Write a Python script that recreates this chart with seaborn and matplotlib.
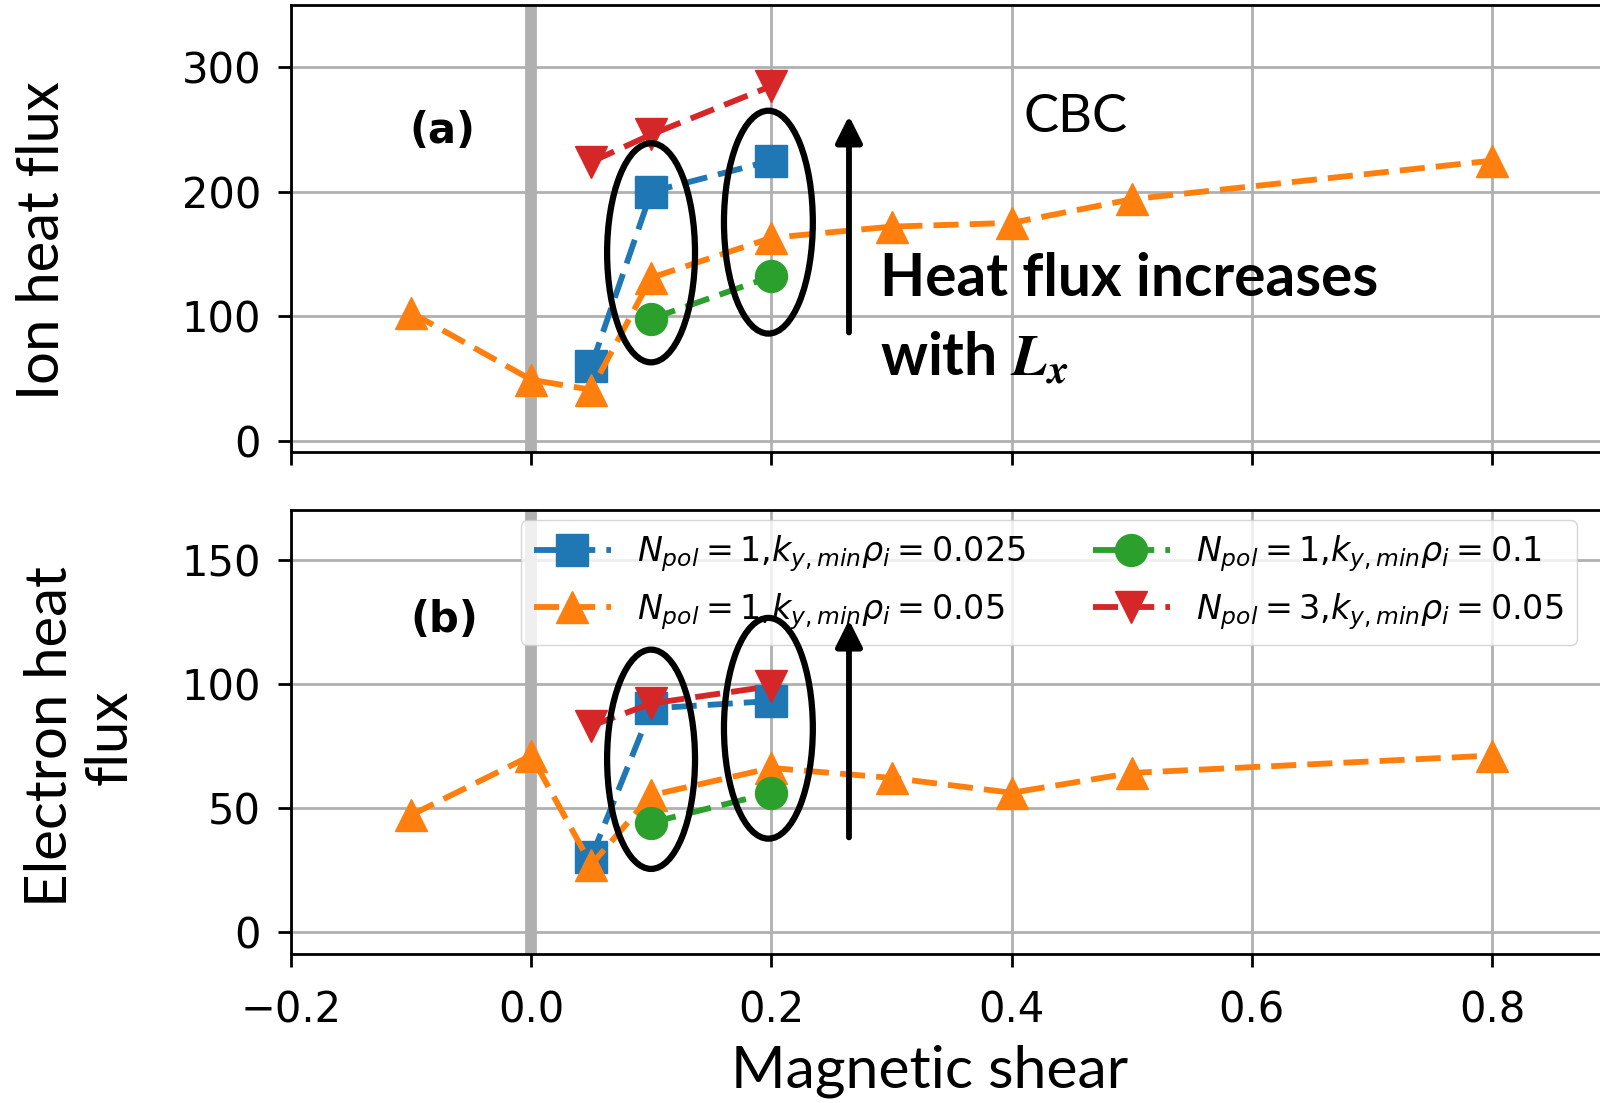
import numpy as np
import pandas as pd
import matplotlib
matplotlib.use("Agg")
import matplotlib.pyplot as plt
import seaborn as sns
from matplotlib.patches import Ellipse
from matplotlib.font_manager import FontProperties

# ---------------- data ----------------
shear_025 = [0.05, 0.1, 0.2]
ion_025 = [60, 200, 225]
elec_025 = [30, 90, 93]

shear_005 = [-0.1, 0.0, 0.05, 0.1, 0.2, 0.3, 0.4, 0.5, 0.8]
ion_005 = [103, 49, 41, 131, 163, 172, 175, 194, 225]
elec_005 = [47, 71, 27, 55, 66, 62, 56, 64, 71]

shear_01 = [0.1, 0.2]
ion_01 = [98, 132]
elec_01 = [44, 56]

shear_np3 = [0.05, 0.1, 0.2]
ion_np3 = [224, 246, 285]
elec_np3 = [83, 92, 99]

labels = [
    r'$N_{pol}=1$,$k_{y,min}\rho_i=0.025$',
    r'$N_{pol}=1$,$k_{y,min}\rho_i=0.05$',
    r'$N_{pol}=1$,$k_{y,min}\rho_i=0.1$',
    r'$N_{pol}=3$,$k_{y,min}\rho_i=0.05$',
]
xticks = [-0.2, 0.0, 0.2, 0.4, 0.6, 0.8]
yticks_ion = [0, 100, 200, 300]
yticks_elec = [0, 50, 100, 150]

series = [
    dict(x=shear_025, ion=ion_025, elec=elec_025, color="#1f77b4", marker="s", label=labels[0]),
    dict(x=shear_005, ion=ion_005, elec=elec_005, color="#ff7f0e", marker="^", label=labels[1]),
    dict(x=shear_01, ion=ion_01, elec=elec_01, color="#2ca02c", marker="o", label=labels[2]),
    dict(x=shear_np3, ion=ion_np3, elec=elec_np3, color="#d62728", marker="v", label=labels[3]),
]

# ---------------- style ----------------
sns.set_theme(style="ticks", rc={
    "axes.edgecolor": "black", "xtick.color": "black", "ytick.color": "black",
    "text.color": "black", "axes.labelcolor": "black",
})
plt.rcParams["font.family"] = ["DejaVu Sans"]
plt.rcParams["mathtext.fontset"] = "dejavusans"

W, H = 1600, 1103
fig = plt.figure(figsize=(W / 100, H / 100), dpi=100)


def rect(l, t, r, b):
    return [l / W, 1 - b / H, (r - l) / W, (b - t) / H]


XMIN, XMAX = -0.2, 0.9
right_px = 291 + (XMAX - XMIN) * 1201
ax1 = fig.add_axes(rect(291, 5, right_px, 452))
ax2 = fig.add_axes(rect(291, 510, right_px, 954))

for ax, key, ylim, yt in [(ax1, "ion", (-9, 350), yticks_ion),
                          (ax2, "elec", (-9, 170), yticks_elec)]:
    ax.set_axisbelow(True)
    ax.grid(True, color="#b0b0b0", lw=2)
    ax.axvline(0, color="#b0b0b0", lw=8.5, zorder=1)
    for s in series:
        df = pd.DataFrame({"x": s["x"], "y": s[key]})
        sns.lineplot(data=df, x="x", y="y", ax=ax, color=s["color"], marker=s["marker"],
                     markersize=23, markeredgecolor=s["color"], markeredgewidth=1,
                     linestyle=(0, (4.3, 1.9)), linewidth=4.2, label=s["label"], zorder=3)
    if ax.get_legend() is not None:
        ax.get_legend().remove()
    ax.set_xlim(XMIN, XMAX)
    ax.set_ylim(*ylim)
    ax.set_xticks(xticks)
    ax.set_yticks(yt)
    ax.set_xlabel("")
    ax.set_ylabel("")
    ax.tick_params(direction="out", length=9.5, width=2, labelsize=30, pad=12)
    ax.tick_params(axis="x", pad=16)
    for sp in ax.spines.values():
        sp.set_linewidth(2)
        sp.set_color("black")

ax1.tick_params(labelbottom=False)

# ---------------- annotations ----------------
ell_kw = dict(fill=False, ec="black", lw=4.5, zorder=6)
ax1.add_patch(Ellipse((0.0998, 151), 0.0732, 176, **ell_kw))
ax1.add_patch(Ellipse((0.1975, 175.6), 0.074, 179, **ell_kw))
ax2.add_patch(Ellipse((0.0998, 69.5), 0.0732, 88.4, **ell_kw))
ax2.add_patch(Ellipse((0.1975, 82), 0.074, 89, **ell_kw))

arr_kw = dict(arrowstyle="-|>", lw=4.2, color="black", mutation_scale=40,
              shrinkA=0, shrinkB=0)
ax1.annotate("", xy=(0.2646, 261), xytext=(0.2646, 87), arrowprops=arr_kw, zorder=6)
ax2.annotate("", xy=(0.2646, 125.7), xytext=(0.2646, 38), arrowprops=arr_kw, zorder=6)

ax1.text(-0.0743, 249, "(a)", fontsize=30, fontweight="bold", ha="center", va="center")
ax2.text(-0.0726, 125.7, "(b)", fontsize=30, fontweight="bold", ha="center", va="center")

t_cbc = ax1.text(0.4095, 260, "CBC", family="Lato", fontsize=34, ha="left", va="center")
t_heat = ax1.text(0.2904, 130, "Heat flux increases", family="Lato", fontweight="bold",
                  fontsize=36, ha="left", va="center")

mt = r"with $\mathbfit{L_x}$"
try:
    from matplotlib.mathtext import MathTextParser
    MathTextParser("agg").parse(r"$\mathbfit{L_x}$", 72, FontProperties(math_fontfamily="stix"))
except Exception:
    mt = r"with $\mathit{L_x}$"
t_with = ax1.text(0.2904, 67, mt, family="Lato", fontweight="bold", fontsize=36,
                  ha="left", va="center", math_fontfamily="stix")

t_ion = fig.text(43 / W, 1 - 241 / H, "Ion heat flux", family="Lato", fontsize=34,
                 rotation=90, ha="center", va="center")
t_el = fig.text(80 / W, 1 - 737 / H, "Electron heat\nflux", family="Lato", fontsize=34,
                rotation=90, ha="center", va="center", multialignment="center",
                linespacing=1.15)
t_mag = fig.text(930 / W, 1 - 1071 / H, "Magnetic shear", family="Lato", fontsize=34,
                 ha="center", va="center")

# legend
handles = ax2.get_lines()
handles = [h for h in handles if h.get_label() in labels]
leg = ax2.legend(handles, labels, ncol=2, loc="upper right",
                 bbox_to_anchor=(0.9735, 0.977), borderaxespad=0, fontsize=24,
                 frameon=True, framealpha=0.8, edgecolor="0.8", fancybox=True,
                 labelspacing=0.5, columnspacing=2.0, handletextpad=0.8,
                 handlelength=2.3)
leg.set_zorder(4)


def fit(t, target, vertical=False):
    fig.canvas.draw()
    bb = t.get_window_extent(renderer=fig.canvas.get_renderer())
    cur = bb.height if vertical else bb.width
    t.set_fontsize(t.get_fontsize() * target / cur)


fit(t_ion, 320, vertical=True)
fit(t_el, 342, vertical=True)
fit(t_mag, 398)
fit(t_cbc, 104)
fit(t_heat, 498)
t_with.set_fontsize(t_heat.get_fontsize())

fig.savefig("out.png", dpi=100)
